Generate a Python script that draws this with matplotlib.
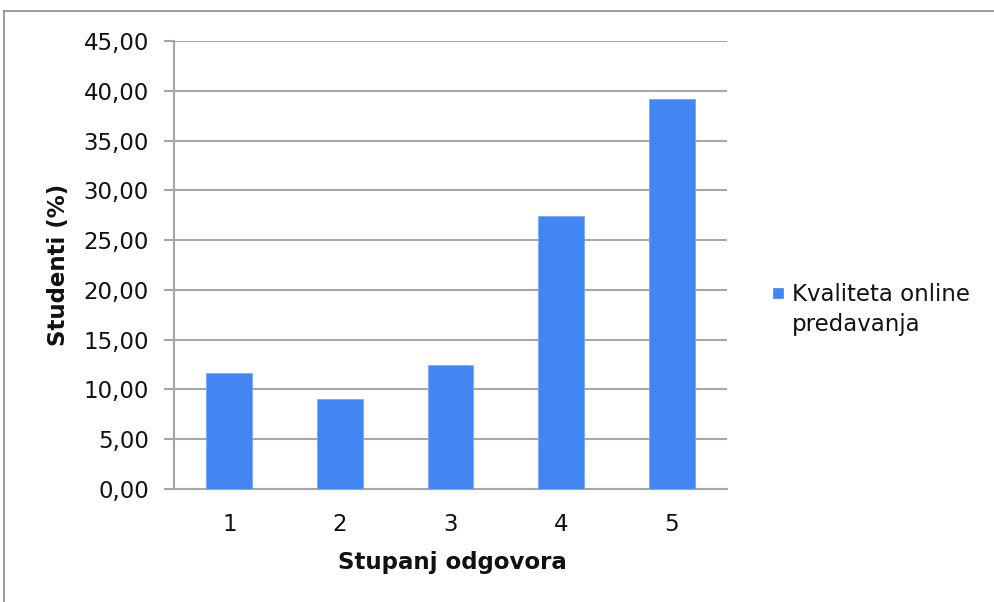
import matplotlib
matplotlib.use("Agg")
import matplotlib.pyplot as plt
from matplotlib.lines import Line2D
from matplotlib.patches import Rectangle

categories = ["1", "2", "3", "4", "5"]
values = [11.62, 9.07, 12.42, 27.45, 39.14]
series_name_lines = ["Kvaliteta online", "predavanja"]
yticks = [0, 5, 10, 15, 20, 25, 30, 35, 40, 45]

plt.rcParams['font.family'] = ['DejaVu Sans']

W, H = 995, 602
fig = plt.figure(figsize=(W/100, H/100), dpi=100)
ax = fig.add_axes([174/W, 1-489/H, (727-174)/W, (489-41)/H])

grid_c = "#a6a6a6"
blue = "#4286f4"
txt_c = "#111111"
fs = 16.5
x = list(range(len(categories)))
ax.bar(x, values, width=0.415, color=blue, edgecolor="#7aa8f7", linewidth=0.6, zorder=3,
       label=" ".join(series_name_lines))
ax.set_xlim(-0.5, len(categories)-0.5)
ax.set_ylim(0, 45)
ax.set_yticks(yticks)
ax.set_yticklabels([f"{v:.2f}".replace(".", ",") for v in yticks], fontsize=fs)
ax.set_xticks(x)
ax.set_xticklabels(categories, fontsize=fs)
ax.yaxis.grid(True, color=grid_c, linewidth=1.5, zorder=0)
ax.set_axisbelow(True)
for s in ["top", "right"]:
    ax.spines[s].set_visible(False)
for s in ["left", "bottom"]:
    ax.spines[s].set_color(grid_c)
    ax.spines[s].set_linewidth(1.5)
ax.tick_params(axis='y', length=7, width=1.5, color=grid_c, pad=11, labelcolor=txt_c)
ax.tick_params(axis='x', length=0, pad=17, labelcolor=txt_c)
ax.set_ylabel("Studenti (%)", fontsize=fs, fontweight='bold', va='center', color=txt_c)
ax.yaxis.set_label_coords((58-174)/553, 0.5)
ax.set_xlabel("Stupanj odgovora", fontsize=fs, fontweight='bold', va='center', color=txt_c)
ax.xaxis.set_label_coords((452-174)/553, (489-563)/448)

# legend (marker aligned with first line, as in the reference)
fig.add_artist(Rectangle((773/W, 1-298/H), 10.5/W, 10.5/H, facecolor=blue, edgecolor=blue,
                         linewidth=0.5, transform=fig.transFigure))
for i, line in enumerate(series_name_lines):
    fig.text(792/W, 1-(301+30*i)/H, line, fontsize=fs, color=txt_c, ha='left', va='baseline')

# outer chart frame (left and top visible)
fig.add_artist(Line2D([4/W, 4/W], [0, 1-11/H], color="#8c8c8c", linewidth=1.2, transform=fig.transFigure))
fig.add_artist(Line2D([4/W, 1], [1-11/H, 1-11/H], color="#8c8c8c", linewidth=1.2, transform=fig.transFigure))

fig.savefig("out.png", dpi=100, facecolor="white")
